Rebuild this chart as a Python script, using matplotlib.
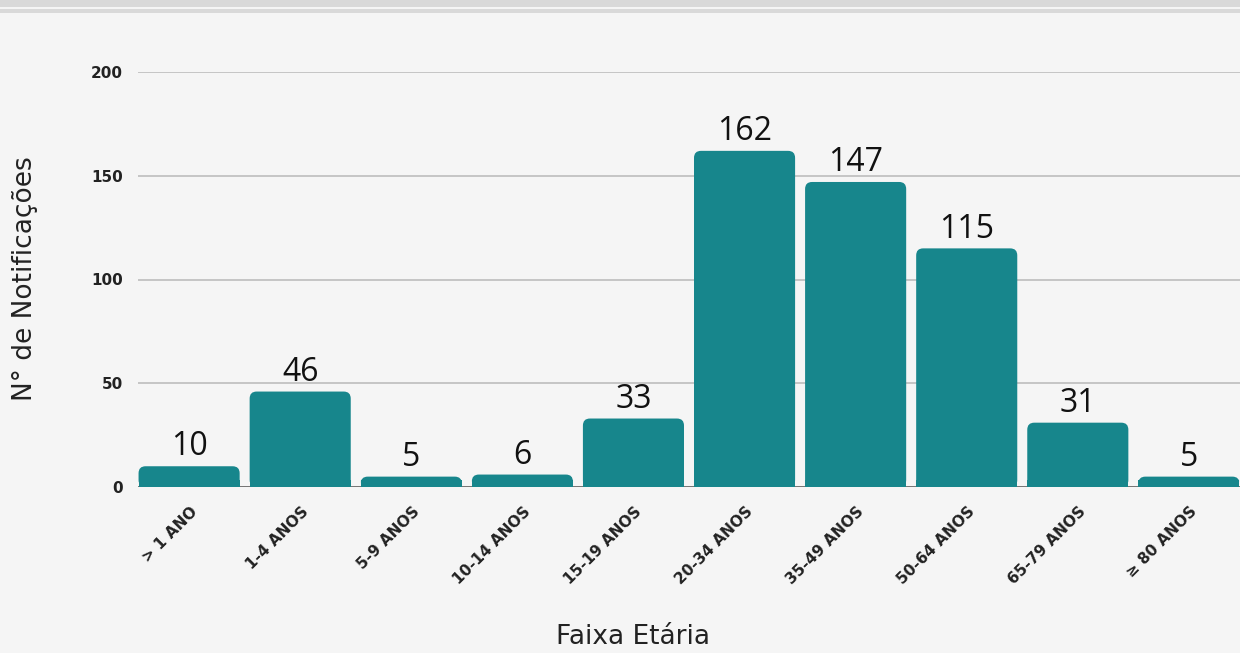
import matplotlib
matplotlib.use("Agg")
import matplotlib.pyplot as plt
from matplotlib.patches import FancyBboxPatch, Rectangle
import matplotlib.transforms as mtransforms

categories = ["> 1 ANO", "1-4 ANOS", "5-9 ANOS", "10-14 ANOS", "15-19 ANOS",
              "20-34 ANOS", "35-49 ANOS", "50-64 ANOS", "65-79 ANOS", "≥ 80 ANOS"]
values = [10, 46, 5, 6, 33, 162, 147, 115, 31, 5]
yticks = [0, 50, 100, 150, 200]

plt.rcParams['font.family'] = ['DejaVu Sans']

W, H = 1240, 653
fig = plt.figure(figsize=(W / 100, H / 100), dpi=100, facecolor='#f5f5f5')

# top band
fig.patches.append(Rectangle((0, 1 - 7 / H), 1, 7 / H, transform=fig.transFigure,
                             facecolor='#d9d9d9', edgecolor='none'))
fig.patches.append(Rectangle((0, 1 - 13 / H), 1, 4 / H, transform=fig.transFigure,
                             facecolor='#d9d9d9', edgecolor='none'))

left, right, top, bottom = 138, 1240, 72, 487
ax = fig.add_axes([left / W, 1 - bottom / H, (right - left) / W, (bottom - top) / H])
ax.set_facecolor('#f5f5f5')
ax.set_xlim(-0.46, len(categories) - 1 + 0.46)
ax.set_ylim(0, 200)

for s in ax.spines.values():
    s.set_visible(False)
ax.set_yticks(yticks)
ax.set_yticklabels([str(t) for t in yticks], fontsize=11, fontweight='bold', color='#222222')
ax.tick_params(axis='y', length=0, pad=11)
ax.grid(axis='y', color='#b8b8b8', linewidth=1.1)
ax.set_axisbelow(True)
ax.axhline(0, color='#666666', linewidth=1.2, zorder=1)

bw = 0.91
px_x = (right - left) / (ax.get_xlim()[1] - ax.get_xlim()[0])
px_y = (bottom - top) / 200
r_px = 7
rx = r_px / px_x
ry = r_px / px_y
color = '#17868c'
for i, v in enumerate(values):
    x0 = i - bw / 2
    p = FancyBboxPatch((x0, 0), bw, v, boxstyle=f"round,pad=0,rounding_size={rx}",
                       mutation_aspect=ry / rx, facecolor=color, edgecolor='none', zorder=3)
    ax.add_patch(p)
    ax.add_patch(Rectangle((x0, 0), bw, min(v, ry), facecolor=color, edgecolor='none', zorder=3))
    ax.annotate(str(v), (i, v), xytext=(0, 2), textcoords='offset points',
                ha='center', va='bottom', fontsize=23, color='#111111', zorder=4,
                family=['Open Sans', 'DejaVu Sans'])

ax.set_xticks(range(len(categories)))
ax.set_xticklabels(categories, rotation=45, ha='right', va='top', fontsize=11,
                   fontweight='semibold', color='#222222')
ax.tick_params(axis='x', length=0, pad=12)
off = mtransforms.ScaledTranslation(11 / 100, 0, fig.dpi_scale_trans)
for lab in ax.get_xticklabels():
    lab.set_transform(lab.get_transform() + off)

fig.text(25 / W, 1 - 279 / H, "N° de Notificações", rotation=90, ha='center', va='center',
         fontsize=19, color='#222222')
fig.text(633 / W, 1 - 637 / H, "Faixa Etária", ha='center', va='center',
         fontsize=19, color='#222222')

fig.savefig("out.png", dpi=100, facecolor=fig.get_facecolor())
